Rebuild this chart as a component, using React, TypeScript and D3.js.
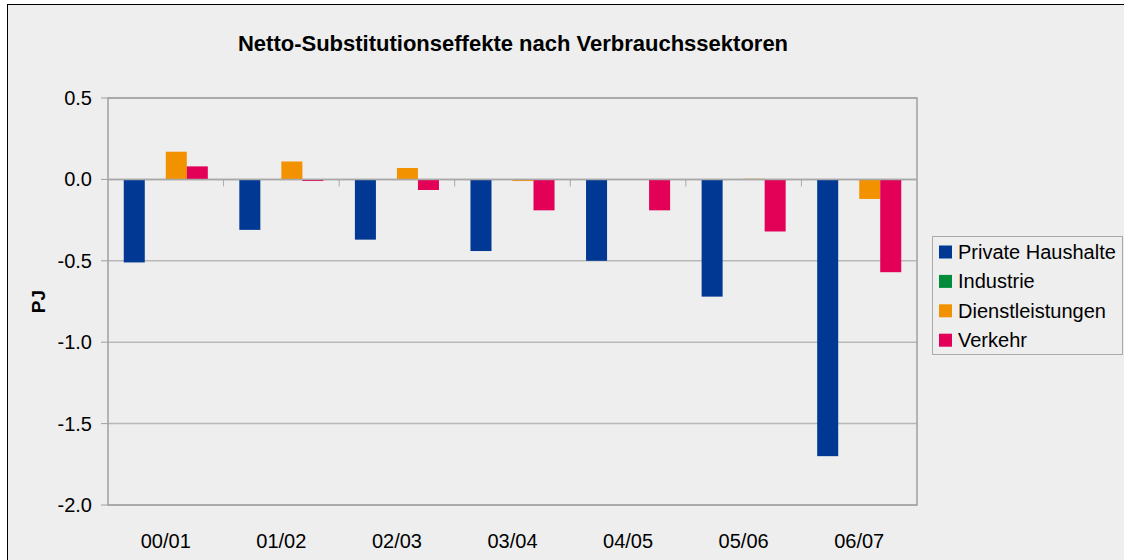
import * as d3 from "d3";

const categories = ["00/01", "01/02", "02/03", "03/04", "04/05", "05/06", "06/07"];
const seriesNames = ["Private Haushalte", "Industrie", "Dienstleistungen", "Verkehr"];
const privateHaushalte = [-0.51, -0.31, -0.37, -0.44, -0.5, -0.72, -1.7];
const industrie = [0, 0, 0, 0, 0, 0, 0];
const dienstleistungen = [0.17, 0.11, 0.07, -0.01, 0, 0.004, -0.12];
const verkehr = [0.08, -0.01, -0.065, -0.19, -0.19, -0.32, -0.57];
const yTicks = [0.5, 0, -0.5, -1, -1.5, -2];

const seriesValues = [privateHaushalte, industrie, dienstleistungen, verkehr];
const seriesColors = ["#003893", "#008c3a", "#f39200", "#e30057"];

const W = 1124;
const H = 560;
const plot = { left: 108, right: 917, top: 98, bottom: 505 };
const font = "Arial, 'Liberation Sans', sans-serif";

// Excel-style labels: plain hyphen minus, one decimal
const fmt = (v: number) => d3.format(".1f")(v).replace("\u2212", "-");

export default function App() {
  const x0 = d3.scaleBand<string>().domain(categories).range([plot.left, plot.right]).padding(0);
  const x1 = d3
    .scaleBand<string>()
    .domain(seriesNames)
    .range([0, x0.bandwidth()])
    .paddingInner(0)
    .paddingOuter(0.75);
  const y = d3.scaleLinear().domain([-2, 0.5]).range([plot.bottom, plot.top]);
  const y0 = y(0);

  return (
    <div style={{ position: "fixed", left: 0, top: 0 }}>
      <svg width={W} height={H} style={{ display: "block", fontFamily: font }}>
        <rect x={0} y={0} width={W} height={H} fill="#ffffff" />
        <rect x={7.5} y={4.5} width={W + 20} height={H + 20} fill="#eeeeee" stroke="#000" strokeWidth={1} />

        <text x={513} y={51} textAnchor="middle" fontSize={22} fontWeight="bold" fill="#000">
          Netto-Substitutionseffekte nach Verbrauchssektoren
        </text>

        {/* grid lines */}
        {yTicks.map((t) => (
          <g key={t}>
            <line
              x1={plot.left}
              x2={plot.right}
              y1={y(t)}
              y2={y(t)}
              stroke={t === 0 ? "#a8a8a8" : "#b8b8b8"}
              strokeWidth={1.5}
            />
            <line x1={plot.left - 7} x2={plot.left} y1={y(t)} y2={y(t)} stroke="#a0a0a0" strokeWidth={1} />
            <text x={92} y={y(t)} dy="0.35em" textAnchor="end" fontSize={20} fill="#000">
              {fmt(t)}
            </text>
          </g>
        ))}

        {/* plot border */}
        <rect
          x={plot.left}
          y={plot.top}
          width={plot.right - plot.left}
          height={plot.bottom - plot.top}
          fill="none"
          stroke="#a0a0a0"
          strokeWidth={1.5}
        />

        {/* bars */}
        {categories.map((c, i) => (
          <g key={c} transform={`translate(${x0(c)},0)`}>
            {seriesNames.map((s, j) => {
              const v = seriesValues[j][i];
              if (v === 0) return null;
              return (
                <rect
                  key={s}
                  x={x1(s)}
                  y={Math.min(y(v), y0)}
                  width={x1.bandwidth()}
                  height={Math.max(Math.abs(y(v) - y0), 0.8)}
                  fill={seriesColors[j]}
                />
              );
            })}
          </g>
        ))}

        {/* zero axis */}
        <line x1={plot.left} x2={plot.right} y1={y0} y2={y0} stroke="#a8a8a8" strokeWidth={1.5} />
        {categories.slice(1).map((c) => (
          <line key={c} x1={x0(c)} x2={x0(c)} y1={y0} y2={y0 + 7} stroke="#a8a8a8" strokeWidth={1} />
        ))}

        {/* x labels */}
        {categories.map((c) => (
          <text
            key={c}
            x={(x0(c) ?? 0) + x0.bandwidth() / 2}
            y={541}
            dy="0.35em"
            textAnchor="middle"
            fontSize={20}
            fill="#000"
          >
            {c}
          </text>
        ))}

        {/* y label */}
        <text
          transform={`translate(38,${(plot.top + plot.bottom) / 2}) rotate(-90)`}
          textAnchor="middle"
          dy="0.35em"
          fontSize={19}
          fontWeight="bold"
          fill="#000"
        >
          PJ
        </text>

        {/* legend */}
        <rect x={932.5} y={236.5} width={190} height={118} fill="#eeeeee" stroke="#aaaaaa" strokeWidth={1} />
        {seriesNames.map((s, j) => (
          <g key={s} transform={`translate(939,${252 + j * 29.4})`}>
            <rect x={0} y={-6.5} width={13} height={13} fill={seriesColors[j]} />
            <text x={19} y={0} dy="0.35em" fontSize={20} fill="#000">
              {s}
            </text>
          </g>
        ))}
      </svg>
    </div>
  );
}
